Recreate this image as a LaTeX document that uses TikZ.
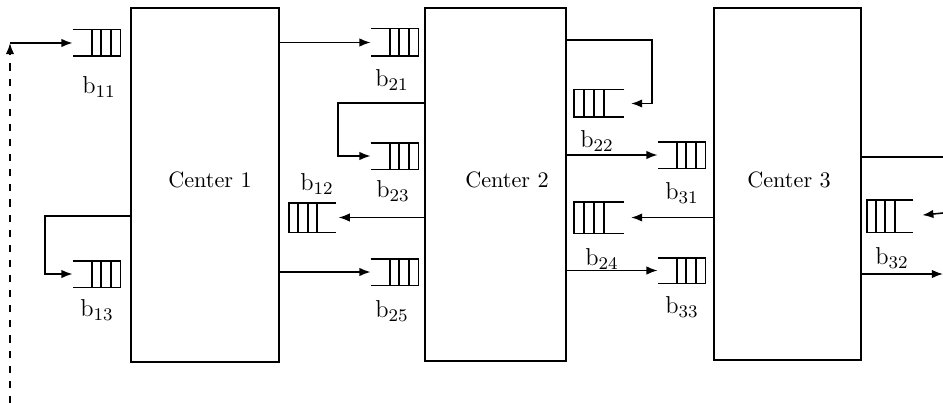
\documentclass[tikz,border=0pt]{standalone}
\usetikzlibrary{arrows.meta,calc,fit}
\tikzset{
  box/.style={draw, line width=1pt, inner sep=0pt},
  qnode/.style={inner sep=0pt},
  qline/.style={line width=0.85pt},
  conn/.style={line width=0.7pt},
  arr/.style={conn, -{Latex[length=5pt,width=3.8pt]}},
  dashline/.style={line width=0.75pt, dash pattern=on 3.2pt off 3.6pt},
  lbl/.style={inner sep=0pt, font=\fontsize{11}{13}\selectfont},
  ctrlbl/.style={inner sep=0pt, font=\fontsize{10}{12}\selectfont}
}
\newcommand{\qOpenL}[1]{%
  \draw[qline] (#1.north west) -- (#1.north east) -- (#1.south east) -- (#1.south west);
  \foreach \f in {0.4,0.6,0.8}{\draw[qline] ($(#1.north west)!\f!(#1.north east)$) -- ($(#1.south west)!\f!(#1.south east)$);}}
\newcommand{\qOpenR}[1]{%
  \draw[qline] (#1.north east) -- (#1.north west) -- (#1.south west) -- (#1.south east);
  \foreach \f in {0.2,0.4,0.6}{\draw[qline] ($(#1.north west)!\f!(#1.north east)$) -- ($(#1.south west)!\f!(#1.south east)$);}}
\begin{document}
\begin{tikzpicture}[x=0.45pt, y=-0.45pt]
\useasboundingbox (0,0) rectangle (943,403);
% centers
\node[box, fit={(131,8) (279,362)}] (c1) {};
\node[box, fit={(425,8) (566,361)}] (c2) {};
\node[box, fit={(714,8) (861,360)}] (c3) {};
\node[ctrlbl] (t1) at (210,180) {Center 1};
\node[ctrlbl] (t2) at (507,180) {Center 2};
\node[ctrlbl] (t3) at (789,180) {Center 3};
% queues
\node[qnode, fit={(73,30) (120,56)}] (q11) {};
\node[qnode, fit={(73,261) (120,287)}] (q13) {};
\node[qnode, fit={(371,29) (418,56)}] (q21) {};
\node[qnode, fit={(371,143) (418,169)}] (q23) {};
\node[qnode, fit={(371,259) (418,285)}] (q25) {};
\node[qnode, fit={(289,203) (336,232)}] (q12) {};
\node[qnode, fit={(574,90) (624,117)}] (q22) {};
\node[qnode, fit={(574,202) (624,233)}] (q24) {};
\node[qnode, fit={(658,142) (705,168)}] (q31) {};
\node[qnode, fit={(658,258) (705,283)}] (q33) {};
\node[qnode, fit={(867,200) (913,232)}] (q32) {};
\qOpenL{q11}\qOpenL{q13}\qOpenL{q21}\qOpenL{q23}\qOpenL{q25}\qOpenL{q31}\qOpenL{q33}
\qOpenR{q12}\qOpenR{q22}\qOpenR{q24}\qOpenR{q32}
% labels
\node[lbl] (l11) at (99,87) {b$_{11}$};
\node[lbl] (l13) at (97,310) {b$_{13}$};
\node[lbl] (l21) at (392,80) {b$_{21}$};
\node[lbl] (l23) at (393,191) {b$_{23}$};
\node[lbl] (l25) at (392,311) {b$_{25}$};
\node[lbl] (l12) at (317,184) {b$_{12}$};
\node[lbl] (l22) at (597,141) {b$_{22}$};
\node[lbl] (l24) at (602,259) {b$_{24}$};
\node[lbl] (l31) at (682,193) {b$_{31}$};
\node[lbl] (l33) at (682,307) {b$_{33}$};
\node[lbl] (l32) at (892,258) {b$_{32}$};
% connectors
\coordinate (d0) at (10,403);
\coordinate (d1) at (10,43);
\draw[dashline, -{Latex[length=5pt,width=3.8pt]}] (d0) -- (d1);
\draw[arr] (d1) -- (q11.west);
\draw[arr] (c1.west |- 0,216) -- (45,216) |- (q13.west);
\draw[arr] (c1.east |- q21.west) -- (q21.west);
\draw[arr] (c1.east |- q25.west) -- (q25.west);
\draw[arr] (c2.west |- 0,103) -- (338,103) |- (q23.west);
\draw[arr, shorten >=1pt] (c2.west |- q12.east) -- (q12.east);
\draw[arr, shorten >=3pt] (c2.east |- 0,40) -- (652,40) |- (q22.east);
\draw[arr] (c2.east |- q31.west) -- (q31.west);
\draw[arr] (c2.east |- q33.west) -- (q33.west);
\draw[arr, shorten >=3pt] (c3.west |- q24.east) -- (q24.east);
\coordinate (r1) at (943,157);
\coordinate (r2) at (943,213);
\coordinate (r3) at (943,274);
\draw[conn] (c3.east |- r1) -- (r1);
\draw[arr, shorten >=4pt] (r2) -- (q32.east);
\draw[arr] (c3.east |- r3) -- (r3);
\end{tikzpicture}
\end{document}
